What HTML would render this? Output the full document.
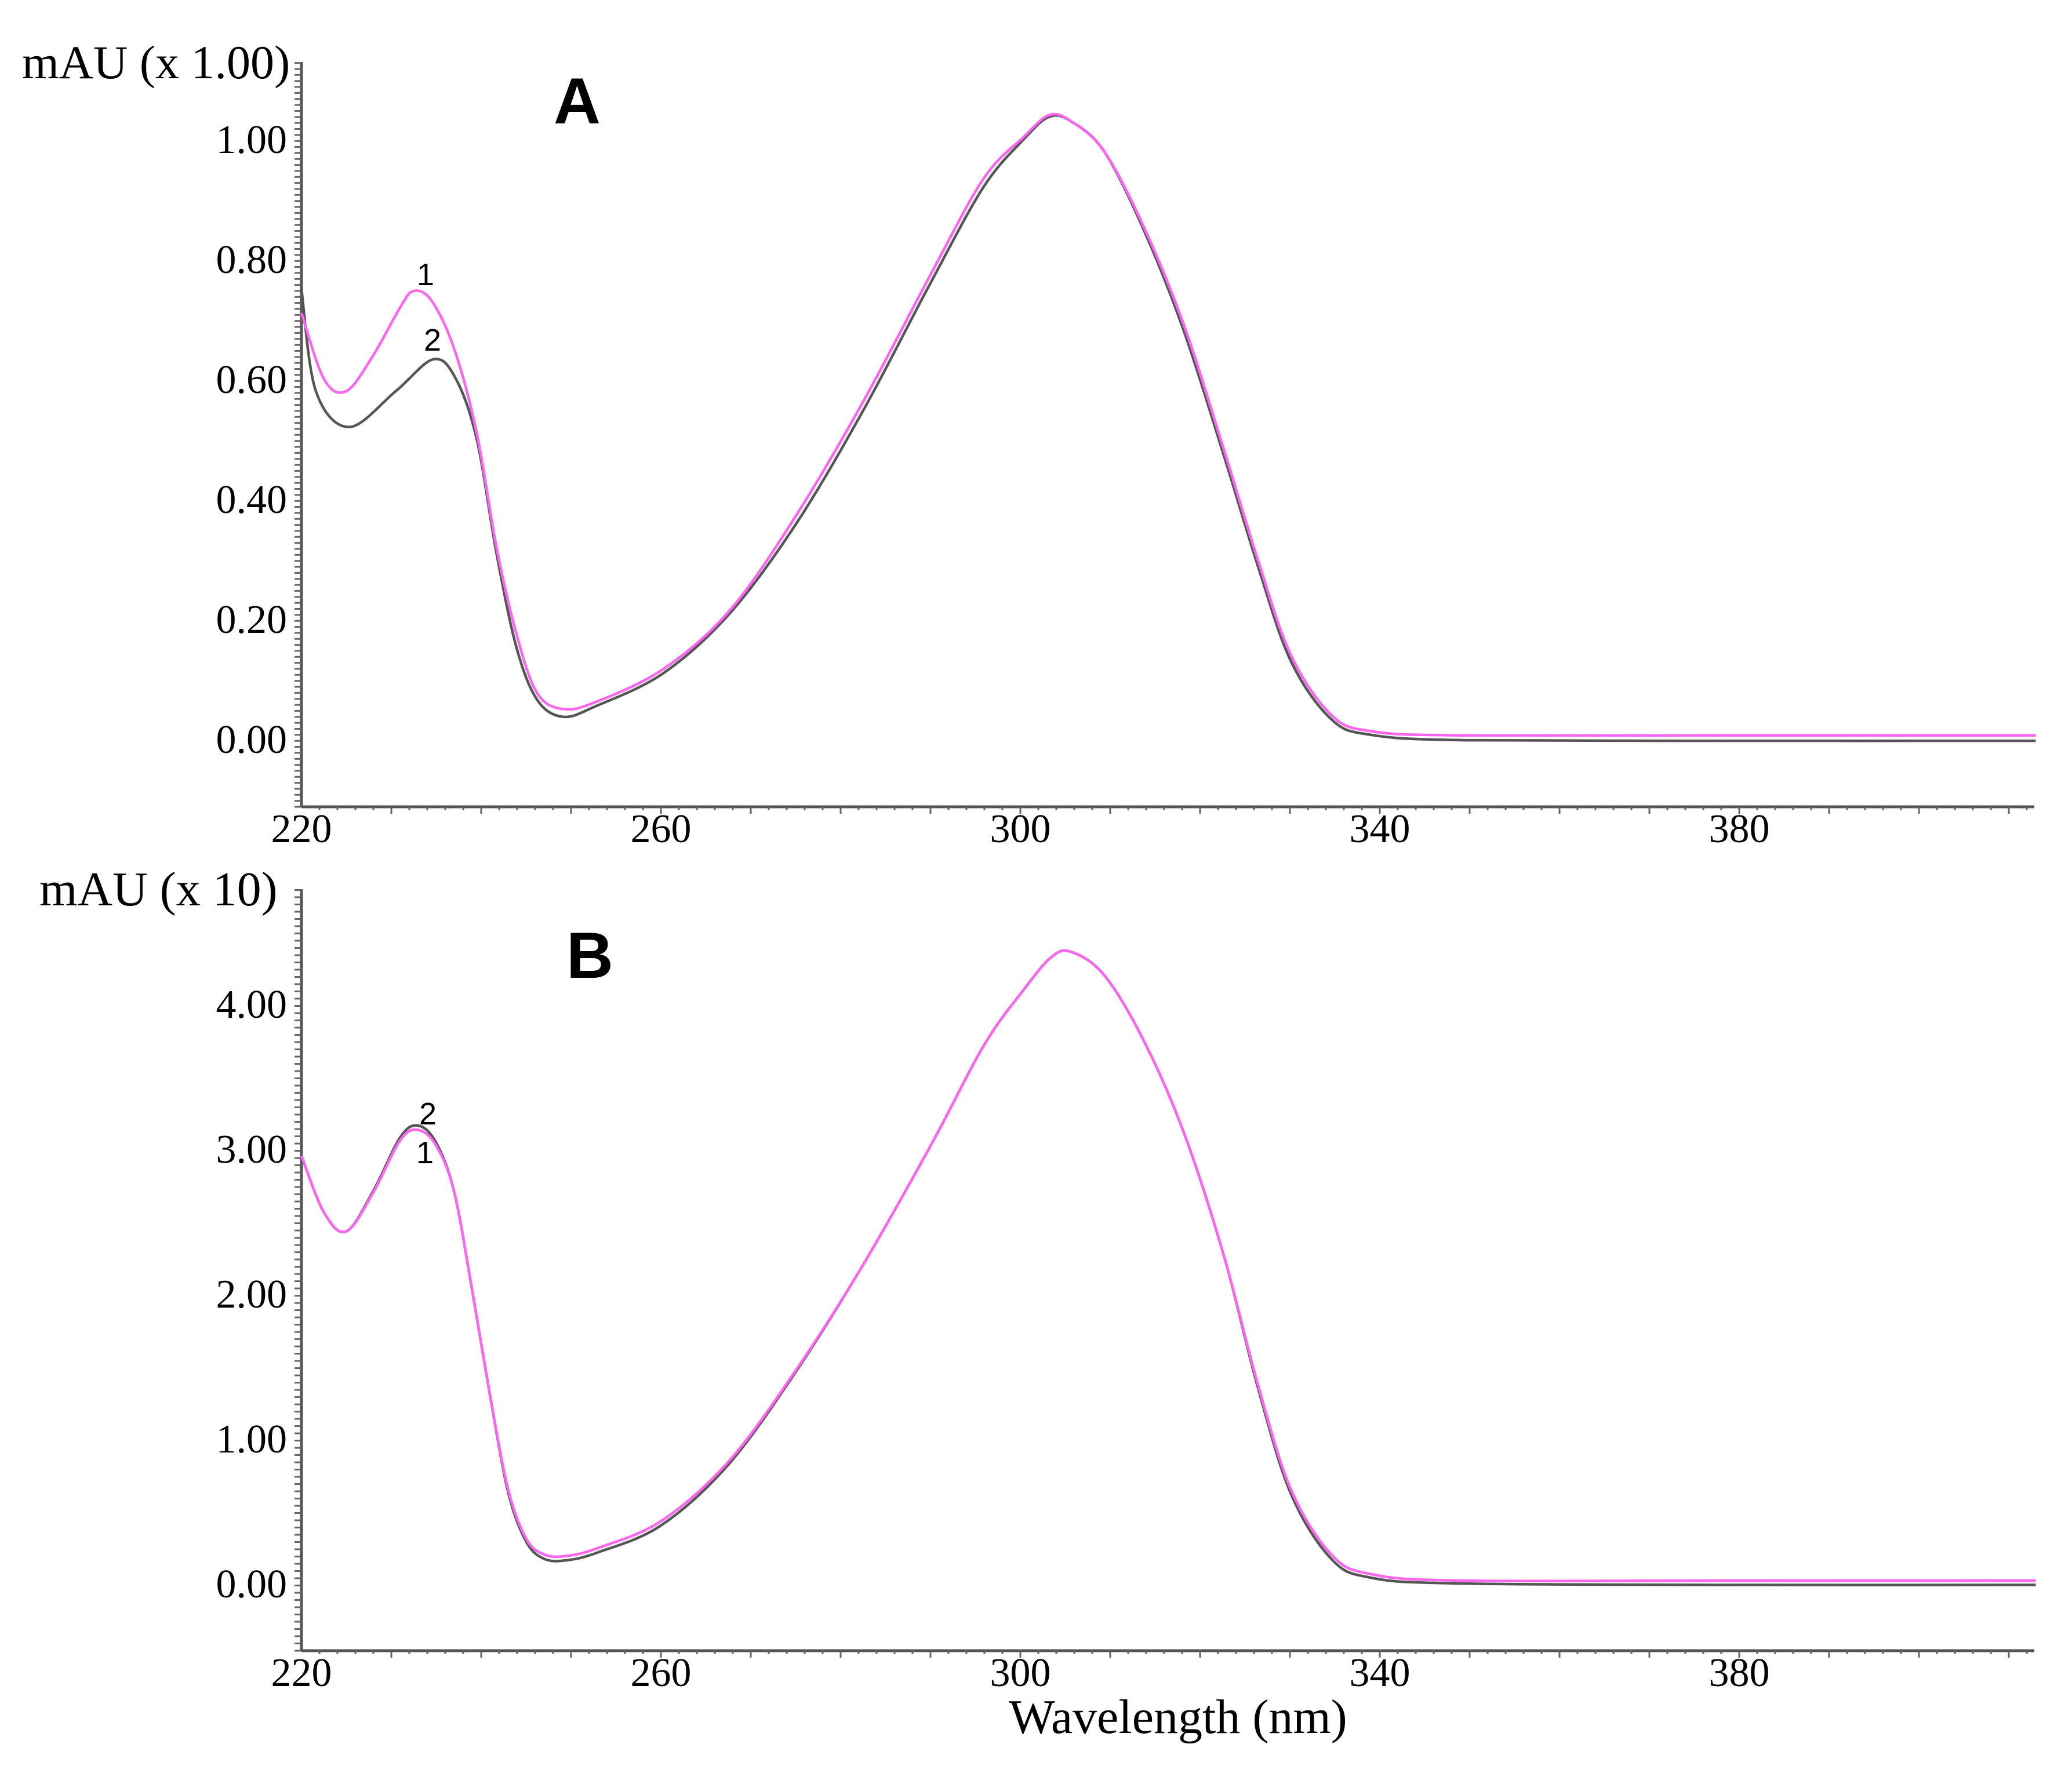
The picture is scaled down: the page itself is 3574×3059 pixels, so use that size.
<!DOCTYPE html>
<html><head><meta charset="utf-8"><style>
html,body{margin:0;padding:0;background:#fff;}
svg{display:block;}
text{font-family:"Liberation Serif",serif;fill:#000;}
.lab{font-family:"Liberation Sans",sans-serif;}
</style></head><body>
<svg id="chart" width="3574" height="3059" viewBox="0 0 3574 3059" xmlns="http://www.w3.org/2000/svg"></svg>
<script>
const xTicks = [220, 260, 300, 340, 380];
const yTicksA = [0, 0.2, 0.4, 0.6, 0.8, 1.0];
const yTicksB = [0, 1, 2, 3, 4];
const wlA1 = [220,222.5,225,228,231,232.5,234.5,237,239.5,241.7,243.9,246.2,249.1,252.8,260.3,267.7,275.1,282.6,290,295.9,300.4,303.2,305.6,309.3,313.7,318.2,322.7,326.4,330.1,334.6,339,349,380,413];
const valA1 = [0.71,0.6,0.58,0.64,0.72,0.747,0.73,0.65,0.51,0.32,0.176,0.077,0.05,0.062,0.117,0.215,0.374,0.565,0.774,0.934,1.004,1.04,1.03,0.98,0.855,0.69,0.48,0.30,0.14,0.04,0.013,0.006,0.006,0.006];
const wlA2 = [220,221.6,225.3,230.5,234.7,237.2,239.5,241.7,243.9,246.2,249.1,252.8,260.3,267.7,275.1,282.6,290,295.9,300.4,303.2,305.6,309.3,313.7,318.2,322.7,326.4,330.1,334.6,339,349.4,380,413];
const valA2 = [0.75,0.58,0.52,0.58,0.633,0.6,0.5,0.31,0.154,0.066,0.037,0.055,0.11,0.21,0.36,0.55,0.76,0.92,1.0,1.037,1.03,0.98,0.85,0.68,0.47,0.29,0.13,0.033,0.007,-0.002,-0.003,-0.003];
const wlB = [220,222.5,225,228,231,233,235,237,239,241,243,245,247,249.5,253,260,267.5,275,282.5,290,296,300.4,303.4,305.6,309.3,313.7,318.2,322.7,326.4,330.1,334.6,339,349,380,413];
const valB1 = [2.95,2.56,2.43,2.70,3.06,3.13,3.02,2.70,2.02,1.29,0.65,0.31,0.20,0.19,0.245,0.43,0.84,1.47,2.2,3.02,3.72,4.1,4.32,4.36,4.2,3.75,3.11,2.25,1.38,0.65,0.2,0.065,0.02,0.02,0.02];
const valB2 = [2.95,2.56,2.43,2.71,3.08,3.16,3.04,2.70,2.02,1.29,0.63,0.29,0.17,0.16,0.215,0.40,0.82,1.46,2.2,3.02,3.72,4.1,4.32,4.36,4.2,3.75,3.11,2.25,1.36,0.62,0.17,0.04,0.0,-0.01,-0.01];

const NS="http://www.w3.org/2000/svg";
const svg=document.getElementById('chart');
function mk(tag,attrs,parent){const e=document.createElementNS(NS,tag);for(const k in attrs)e.setAttribute(k,attrs[k]);(parent||svg).appendChild(e);return e;}
const X0=520, XEND=3509, PXNM=15.5;
function xs(w){return X0+(w-220)*PXNM;}
function path(xsA,ysA){
  const p=xsA.map((v,i)=>[v,ysA[i]]);
  let d='M'+p[0][0].toFixed(1)+','+p[0][1].toFixed(1);
  for(let i=0;i<p.length-1;i++){
    const p0=p[i-1]||p[i],p1=p[i],p2=p[i+1],p3=p[i+2]||p[i+1];
    const c1=[p1[0]+(p2[0]-p0[0])/6,p1[1]+(p2[1]-p0[1])/6];
    const c2=[p2[0]-(p3[0]-p1[0])/6,p2[1]-(p3[1]-p1[1])/6];
    d+=' C'+c1[0].toFixed(1)+','+c1[1].toFixed(1)+' '+c2[0].toFixed(1)+','+c2[1].toFixed(1)+' '+p2[0].toFixed(1)+','+p2[1].toFixed(1);
  }
  return d;
}
function panel(cfg){
  const g=mk('g',{});
  
  
  const ys=v=>cfg.y0-v*cfg.ppu;
  const ya=mk('line',{x1:X0,y1:cfg.top,x2:X0,y2:cfg.bottom,stroke:'#555','stroke-width':5},g);
  
  const xa=mk('line',{x1:X0,y1:cfg.bottom,x2:XEND,y2:cfg.bottom,stroke:'#555','stroke-width':5},g);
  
  let d='';
  for(let y=cfg.bottom;y>=cfg.top;y-=cfg.minor){d+='M'+(X0-12)+','+y.toFixed(1)+'H'+X0;}
  for(let w=222;xs(w)<=XEND;w+=2){const L=(w%10===0)?12:6;d+='M'+xs(w).toFixed(1)+','+cfg.bottom+'v'+L;}
  const tk=mk('path',{d:d,stroke:'#666','stroke-width':3,fill:'none'},g);
  
  cfg.yt.forEach(v=>{
    const t=mk('text',{x:495,y:ys(v)+24,'font-size':70,'text-anchor':'end'},g);
    t.textContent=v.toFixed(2);
    
  });
  xTicks.forEach(w=>{
    const t=mk('text',{x:xs(w),y:cfg.bottom+61,'font-size':70,'text-anchor':'middle'},g);
    t.textContent=w;
    
  });
  const yt=mk('text',{x:cfg.ytx,y:cfg.top+28,'font-size':cfg.yfs},g);
  yt.textContent=cfg.ytitle;
  
  const pl=mk('text',{x:cfg.plx,y:cfg.ply,'font-size':112,'font-weight':'bold',class:'lab'},g);
  pl.textContent=cfg.letter;
  
  cfg.series.forEach(s=>{
    const p=mk('path',{d:path(s.w.map(xs),s.v.map(ys)),stroke:s.c,'stroke-width':4.5,fill:'none'},g);
    
  });
  cfg.marks.forEach(m=>{
    const t=mk('text',{x:m[1],y:m[2],'font-size':54,'text-anchor':'middle',class:'lab'},g);
    t.textContent=m[0];
    
  });
}
panel({name:'panel-a',top:107,bottom:1392,y0:1275,ppu:1035,minor:10.35,yt:yTicksA,ytitle:'mAU (x 1.00)',yfs:82,ytx:38,plx:955,ply:213,letter:'A',
  series:[{w:wlA2,v:valA2,c:'#555',n:'series-2-a'},{w:wlA1,v:valA1,c:'#ff66f0',n:'series-1-a'}],
  marks:[['1',734,492],['2',746,605]]});
panel({name:'panel-b',top:1534,bottom:2848,y0:2732,ppu:250,minor:12.5,yt:yTicksB,ytitle:'mAU (x 10)',yfs:84,ytx:68,plx:977,ply:1687,letter:'B',
  series:[{w:wlB,v:valB2,c:'#555',n:'series-2-b'},{w:wlB,v:valB1,c:'#ff66f0',n:'series-1-b'}],
  marks:[['2',738,1940],['1',733,2007]]});
const xt=mk('text',{x:2032,y:2990,'font-size':84,'text-anchor':'middle'});
xt.textContent='Wavelength (nm)';


</script>
</body></html>
